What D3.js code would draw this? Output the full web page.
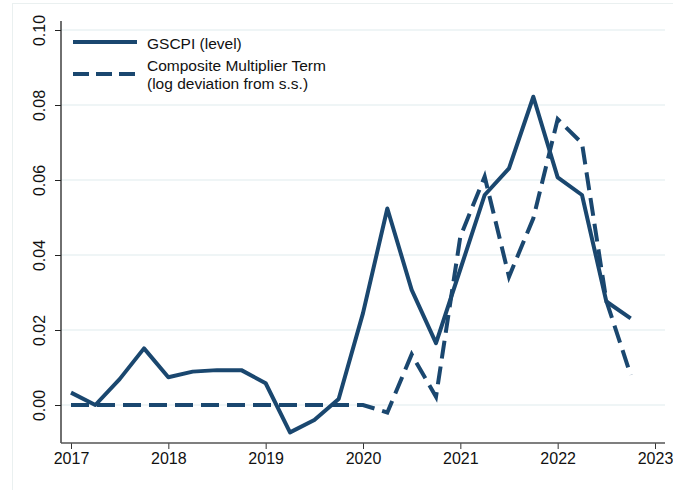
<!DOCTYPE html>
<html>
<head>
<meta charset="utf-8">
<script src="https://cdn.jsdelivr.net/npm/d3@7"></script>
<style>
  body { margin: 0; background: #fff; }
  text { font-family: "Liberation Sans", Arial, sans-serif; fill: #111; }
</style>
</head>
<body>
<div id="chart"></div>
<script>
// quarterly observations, 2017q1 .. 2022q4
var quarters = [2017, 2017.25, 2017.5, 2017.75, 2018, 2018.25, 2018.5, 2018.75,
                2019, 2019.25, 2019.5, 2019.75, 2020, 2020.25, 2020.5, 2020.75,
                2021, 2021.25, 2021.5, 2021.75, 2022, 2022.25, 2022.5, 2022.75];
var gscpi = [0.0033, 0.0000, 0.0069, 0.0151, 0.0074, 0.0089, 0.0093, 0.0093,
             0.0058, -0.0073, -0.0040, 0.0016, 0.0245, 0.0524, 0.0307, 0.0165,
             0.0362, 0.0560, 0.0631, 0.0822, 0.0607, 0.0560, 0.0276, 0.0231];
var multiplier = [0, 0, 0, 0, 0, 0, 0, 0,
                  0, 0, 0, 0, 0, -0.0020, 0.0135, 0.0022,
                  0.0449, 0.0609, 0.0342, 0.0498, 0.0762, 0.0698, 0.0278, 0.0080];
var yearTicks = [2017, 2018, 2019, 2020, 2021, 2022, 2023];
var yTicks = [0, 0.02, 0.04, 0.06, 0.08, 0.10];
var legendLabels = [["GSCPI (level)"], ["Composite Multiplier Term", "(log deviation from s.s.)"]];

var width = 673, height = 490;
var navy = "#1a476f";

var svg = d3.select("#chart").append("svg")
  .attr("width", width)
  .attr("height", height);

// outer graph region border (faint)
svg.append("rect")
  .attr("x", 12.5).attr("y", 3.5)
  .attr("width", width).attr("height", height)
  .attr("fill", "none").attr("stroke", "#eaf0f0");

var x = d3.scaleLinear().domain([2017, 2023]).range([71, 655]);
var y = d3.scaleLinear().domain([0, 0.10]).range([405, 30]);

var plotLeft = 61, plotRight = 665, plotBottom = 443, plotTop = 21;

// gridlines
svg.append("g").selectAll("line")
  .data(yTicks)
  .enter().append("line")
    .attr("x1", plotLeft).attr("x2", plotRight)
    .attr("y1", function(d) { return y(d); })
    .attr("y2", function(d) { return y(d); })
    .attr("stroke", "#eaf2f3")
    .attr("stroke-width", 1.3);

// y axis
var yAxis = svg.append("g")
  .attr("transform", "translate(" + plotLeft + ",0)")
  .call(d3.axisLeft(y).tickValues(yTicks).tickFormat(d3.format(".2f")).tickSize(6).tickPadding(13));
yAxis.select(".domain").remove();
yAxis.append("line")
  .attr("x1", 0).attr("x2", 0).attr("y1", plotTop).attr("y2", plotBottom)
  .attr("stroke", "#222").attr("stroke-width", 1.3);
yAxis.selectAll(".tick line").attr("stroke", "#222");
yAxis.selectAll(".tick text")
  .attr("font-size", "16px")
  .attr("fill", "#111")
  .attr("x", 0).attr("dy", 0)
  .attr("text-anchor", "middle")
  .attr("transform", "translate(-16,0) rotate(-90)");

// x axis
var xAxis = svg.append("g")
  .attr("transform", "translate(0," + plotBottom + ")")
  .call(d3.axisBottom(x).tickValues(yearTicks).tickFormat(d3.format("d")).tickSize(6).tickPadding(4));
xAxis.select(".domain").remove();
xAxis.append("line")
  .attr("x1", plotLeft).attr("x2", plotRight).attr("y1", 0).attr("y2", 0)
  .attr("stroke", "#555").attr("stroke-width", 1.3);
xAxis.selectAll(".tick line").attr("stroke", "#333");
xAxis.selectAll(".tick text").attr("font-size", "16px").attr("fill", "#111");

// series
var line = d3.line()
  .x(function(d) { return x(d[0]); })
  .y(function(d) { return y(d[1]); });

svg.append("path")
  .datum(d3.zip(quarters, multiplier))
  .attr("d", line)
  .attr("fill", "none")
  .attr("stroke", navy)
  .attr("stroke-width", 4)
  .attr("stroke-dasharray", "18,8");

svg.append("path")
  .datum(d3.zip(quarters, gscpi))
  .attr("d", line)
  .attr("fill", "none")
  .attr("stroke", navy)
  .attr("stroke-width", 4)
  .attr("stroke-linejoin", "round");

// legend
var legend = svg.append("g");
var legY = [42, 74];
legend.selectAll("line.key")
  .data(legendLabels)
  .enter().append("line")
    .attr("class", "key")
    .attr("x1", 73).attr("x2", 137)
    .attr("y1", function(d, i) { return legY[i]; })
    .attr("y2", function(d, i) { return legY[i]; })
    .attr("stroke", navy)
    .attr("stroke-width", 4)
    .attr("stroke-dasharray", function(d, i) { return i == 0 ? null : "16,7"; });

legendLabels.forEach(function(lines, i) {
  lines.forEach(function(s, j) {
    legend.append("text")
      .attr("x", 147)
      .attr("y", (i == 0 ? 48.5 : 71) + j * 18)
      .attr("font-size", "15.5px")
      .text(s);
  });
});
</script>
</body>
</html>
